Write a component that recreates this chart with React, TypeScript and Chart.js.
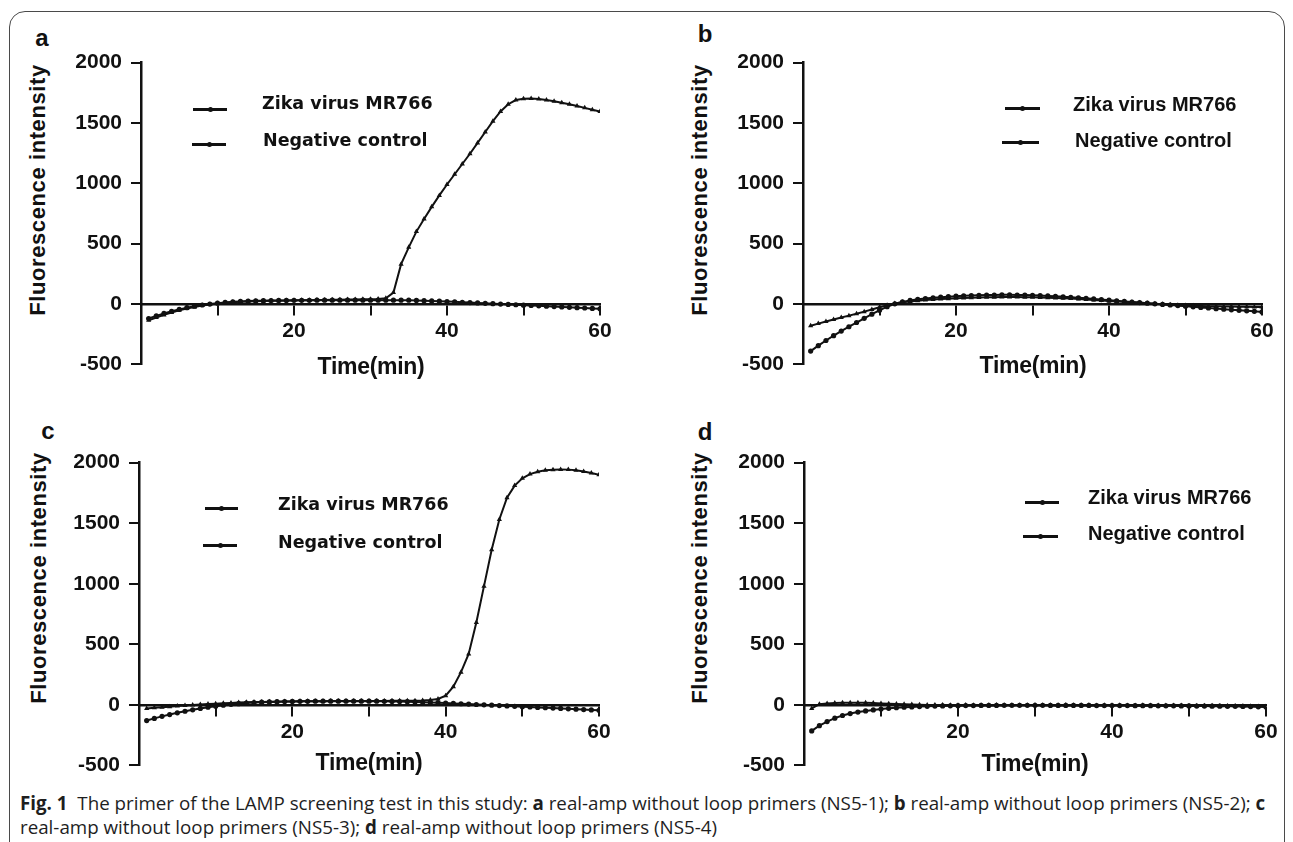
import React, { useEffect, useLayoutEffect, useRef, useState } from "react";
import { Chart, registerables } from "chart.js";

Chart.register(...registerables);

// ---------- DATA ----------
const TIME = [1, 2, 3, 4, 5, 6, 7, 8, 9, 10, 11, 12, 13, 14, 15, 16, 17, 18, 19, 20,
  21, 22, 23, 24, 25, 26, 27, 28, 29, 30, 31, 32, 33, 34, 35, 36, 37, 38, 39, 40,
  41, 42, 43, 44, 45, 46, 47, 48, 49, 50, 51, 52, 53, 54, 55, 56, 57, 58, 59, 60];

const SERIES_NAMES = ["Zika virus MR766", "Negative control"];
const PANEL_LETTERS = ["a", "b", "c", "d"];
const X_TITLE = "Time(min)";
const Y_TITLE = "Fluorescence intensity";
const X_TICK_LABELS = [20, 40, 60];
const Y_TICK_LABELS = [-500, 0, 500, 1000, 1500, 2000];

const A_ZIKA = [-135, -112, -90, -70, -52, -37, -24, -13, -4, 4,
  10, 15, 19, 22, 24, 26, 27, 28, 29, 30,
  31, 32, 33, 34, 35, 36, 37, 38, 39, 40,
  42, 48, 95, 330, 470, 600, 705, 805, 900, 990,
  1075, 1160, 1245, 1335, 1425, 1515, 1595, 1655, 1690, 1700,
  1702, 1698, 1690, 1680, 1668, 1655, 1640, 1625, 1610, 1595];
const A_NEG = [-120, -98, -78, -60, -44, -30, -18, -8, 0, 7,
  13, 18, 22, 25, 27, 28, 29, 30, 30, 31,
  31, 31, 32, 32, 32, 32, 32, 32, 32, 32,
  32, 32, 32, 32, 32, 30, 28, 26, 24, 21,
  18, 15, 12, 9, 6, 3, 0, -3, -6, -9,
  -12, -15, -18, -21, -24, -27, -30, -33, -36, -40];

const B_ZIKA = [-180, -162, -145, -128, -112, -96, -80, -63, -45, -27,
  -10, 4, 14, 22, 28, 33, 37, 41, 44, 47,
  50, 52, 54, 56, 57, 58, 58, 58, 57, 56,
  55, 53, 51, 48, 45, 42, 38, 34, 30, 26,
  22, 18, 14, 10, 6, 2, -2, -6, -9, -12,
  -14, -16, -18, -19, -20, -21, -22, -23, -24, -25];
const B_NEG = [-390, -345, -302, -262, -224, -188, -153, -118, -84, -52,
  -22, 2, 18, 30, 39, 46, 52, 57, 61, 65,
  68, 70, 72, 74, 75, 76, 76, 75, 74, 72,
  70, 67, 64, 60, 56, 52, 47, 42, 37, 32,
  27, 22, 17, 12, 7, 2, -3, -8, -13, -18,
  -23, -28, -33, -38, -43, -48, -52, -56, -60, -65];

const C_ZIKA = [-30, -25, -20, -15, -10, -6, -2, 2, 6, 10,
  13, 16, 19, 21, 23, 24, 25, 26, 27, 28,
  29, 29, 30, 30, 31, 31, 31, 32, 32, 32,
  32, 32, 33, 33, 33, 34, 36, 40, 48, 75,
  150, 270, 420, 680, 980, 1280, 1530, 1710, 1810, 1870,
  1905, 1925, 1936, 1941, 1943, 1942, 1937, 1927, 1914, 1900];
const C_NEG = [-130, -112, -95, -80, -66, -53, -41, -30, -20, -11,
  -3, 4, 10, 15, 19, 22, 24, 26, 27, 28,
  29, 29, 30, 30, 30, 30, 30, 30, 30, 30,
  30, 29, 28, 27, 26, 24, 22, 20, 18, 15,
  12, 9, 6, 3, 0, -3, -6, -9, -12, -15,
  -18, -21, -24, -27, -30, -33, -36, -39, -42, -45];

const D_ZIKA = [-30, 5, 12, 15, 17, 18, 18, 17, 15, 12,
  9, 6, 4, 2, 0, -1, -2, -2, -3, -3,
  -2, -3, -4, -3, -2, -3, -4, -4, -3, -2,
  -3, -4, -3, -2, -3, -4, -4, -5, -4, -3,
  -4, -5, -5, -4, -5, -6, -6, -5, -6, -7,
  -7, -8, -8, -9, -9, -10, -11, -12, -13, -14];
const D_NEG = [-215, -172, -138, -110, -88, -72, -60, -50, -42, -35,
  -29, -24, -20, -17, -14, -12, -10, -9, -8, -7,
  -6, -6, -5, -5, -5, -4, -4, -4, -4, -4,
  -4, -5, -5, -5, -5, -5, -5, -6, -6, -6,
  -6, -6, -7, -7, -7, -8, -8, -8, -9, -9,
  -10, -10, -11, -11, -12, -12, -13, -14, -16, -18];

// ---------- STYLE / LAYOUT ----------
const INK = "#111111";
const ARIAL = "'Liberation Sans', Arial, Helvetica, sans-serif";
const VERDANA = "'DejaVu Sans', Verdana, sans-serif";

type PanelCfg = {
  zika: number[];
  neg: number[];
  canvas: { left: number; top: number; width: number; height: number };
  letter: { x: number; y: number };
  yTitle: { x: number; y: number };
  xTitle: { x: number; y: number };
  legendFont: string;
  legendSize: number;
  legend: { lx: number; lw: number; ly: number; tx: number; ty: number }[];
};

const PANELS: PanelCfg[] = [
  {
    zika: A_ZIKA, neg: A_NEG,
    canvas: { left: 61, top: 41, width: 559, height: 345 },
    letter: { x: 42, y: 38 },
    yTitle: { x: 38, y: 190 },
    xTitle: { x: 371, y: 366 },
    legendFont: VERDANA, legendSize: 17.5,
    legend: [
      { lx: 193, lw: 34, ly: 109, tx: 262, ty: 104 },
      { lx: 192, lw: 34, ly: 144, tx: 263, ty: 141 },
    ],
  },
  {
    zika: B_ZIKA, neg: B_NEG,
    canvas: { left: 723, top: 41, width: 559, height: 345 },
    letter: { x: 705, y: 34 },
    yTitle: { x: 700, y: 190 },
    xTitle: { x: 1033, y: 365 },
    legendFont: ARIAL, legendSize: 20,
    legend: [
      { lx: 1005, lw: 35, ly: 108, tx: 1073, ty: 104 },
      { lx: 1002, lw: 37, ly: 142, tx: 1075, ty: 140 },
    ],
  },
  {
    zika: C_ZIKA, neg: C_NEG,
    canvas: { left: 59, top: 441, width: 560, height: 346 },
    letter: { x: 48, y: 431 },
    yTitle: { x: 39, y: 578 },
    xTitle: { x: 369, y: 762 },
    legendFont: VERDANA, legendSize: 17.5,
    legend: [
      { lx: 205, lw: 33, ly: 508, tx: 278, ty: 505 },
      { lx: 203, lw: 34, ly: 545, tx: 278, ty: 543 },
    ],
  },
  {
    zika: D_ZIKA, neg: D_NEG,
    canvas: { left: 724, top: 441, width: 562, height: 346 },
    letter: { x: 705, y: 432 },
    yTitle: { x: 700, y: 578 },
    xTitle: { x: 1035, y: 763 },
    legendFont: ARIAL, legendSize: 20,
    legend: [
      { lx: 1025, lw: 34, ly: 502, tx: 1088, ty: 497 },
      { lx: 1023, lw: 35, ly: 536, tx: 1088, ty: 533 },
    ],
  },
];

function PanelChart({ cfg }: { cfg: PanelCfg }) {
  const ref = useRef<HTMLCanvasElement>(null);
  useEffect(() => {
    if (!ref.current) return;
    const mk = (vals: number[]) => TIME.map((t, i) => ({ x: t, y: vals[i] }));
    const tickFont = { family: ARIAL, size: 21, weight: "bold" as const };
    const chart = new Chart(ref.current, {
      type: "line",
      data: {
        datasets: [
          {
            label: SERIES_NAMES[0],
            data: mk(cfg.zika),
            borderColor: INK,
            backgroundColor: INK,
            borderWidth: 2,
            pointStyle: "triangle",
            pointRadius: 3,
            pointBorderWidth: 0,
            pointBackgroundColor: INK,
            tension: 0,
          },
          {
            label: SERIES_NAMES[1],
            data: mk(cfg.neg),
            borderColor: INK,
            backgroundColor: INK,
            borderWidth: 2,
            pointStyle: "circle",
            pointRadius: 2.6,
            pointBorderWidth: 0,
            pointBackgroundColor: INK,
            tension: 0,
          },
        ],
      },
      options: {
        animation: false,
        responsive: false,
        maintainAspectRatio: false,
        layout: { padding: { left: 0, top: 20, right: 20, bottom: 20 } },
        plugins: { legend: { display: false }, tooltip: { enabled: false } },
        scales: {
          x: {
            type: "linear",
            min: 0,
            max: 60,
            position: { y: 0 } as any,
            grid: { drawOnChartArea: false, drawTicks: true, tickLength: 10, color: INK, lineWidth: 2 },
            border: { display: true, color: INK, width: 2.5 },
            ticks: {
              stepSize: 10,
              autoSkip: false,
              maxRotation: 0,
              padding: 5,
              color: INK,
              font: tickFont,
              callback: (v: any) => (X_TICK_LABELS.includes(Number(v)) ? String(v) : ""),
            },
          },
          y: {
            type: "linear",
            min: -500,
            max: 2000,
            position: "left",
            afterFit: (s: any) => {
              s.width = 80;
            },
            grid: { drawOnChartArea: false, drawTicks: true, tickLength: 10, color: INK, lineWidth: 2 },
            border: { display: true, color: INK, width: 2.5 },
            ticks: {
              stepSize: 500,
              autoSkip: false,
              padding: 9,
              color: INK,
              font: tickFont,
              callback: (v: any) => (Y_TICK_LABELS.includes(Number(v)) ? String(v) : ""),
            },
          },
        },
      },
    });
    return () => chart.destroy();
  }, [cfg]);
  const c = cfg.canvas;
  return (
    <canvas
      ref={ref}
      width={c.width}
      height={c.height}
      style={{ position: "absolute", left: c.left, top: c.top, width: c.width, height: c.height }}
    />
  );
}

const centered = (x: number, y: number): React.CSSProperties => ({
  position: "absolute",
  left: x,
  top: y,
  transform: "translate(-50%, -50%)",
  whiteSpace: "nowrap",
});

function PanelDecor({ cfg, idx }: { cfg: PanelCfg; idx: number }) {
  return (
    <>
      <div style={{ ...centered(cfg.letter.x, cfg.letter.y), font: `bold 24px ${ARIAL}`, color: INK, lineHeight: "28px" }}>
        {PANEL_LETTERS[idx]}
      </div>
      <div
        style={{
          position: "absolute",
          left: cfg.yTitle.x,
          top: cfg.yTitle.y,
          transform: "translate(-50%, -50%) rotate(-90deg)",
          whiteSpace: "nowrap",
          font: `bold 22px ${ARIAL}`,
          letterSpacing: "0.6px",
          color: INK,
          lineHeight: "26px",
        }}
      >
        {Y_TITLE}
      </div>
      <div style={{ ...centered(cfg.xTitle.x, cfg.xTitle.y), font: `bold 23px ${ARIAL}`, letterSpacing: "-0.3px", color: INK, lineHeight: "28px" }}>
        {X_TITLE}
      </div>
      {cfg.legend.map((l, i) => (
        <React.Fragment key={i}>
          <div style={{ position: "absolute", left: l.lx, top: l.ly - 1, width: l.lw, height: 2.5, background: INK }} />
          <div
            style={{
              position: "absolute",
              left: l.lx + l.lw / 2 - 2.5,
              top: l.ly - 2.25,
              width: 5,
              height: 5,
              borderRadius: "50%",
              background: INK,
            }}
          />
          <div
            style={{
              position: "absolute",
              left: l.tx,
              top: l.ty,
              transform: "translateY(-50%)",
              whiteSpace: "nowrap",
              font: `bold ${cfg.legendSize}px ${cfg.legendFont}`,
              color: INK,
              lineHeight: `${cfg.legendSize + 4}px`,
            }}
          >
            {SERIES_NAMES[i]}
          </div>
        </React.Fragment>
      ))}
    </>
  );
}

function Caption() {
  const line1 = useRef<HTMLSpanElement>(null);
  const [sx, setSx] = useState(1);
  useLayoutEffect(() => {
    if (line1.current) {
      const w = line1.current.offsetWidth;
      if (w > 0) setSx(1245 / w);
    }
  }, []);
  const base: React.CSSProperties = {
    position: "absolute",
    left: 20,
    whiteSpace: "nowrap",
    font: `19px 'Open Sans', 'Noto Sans', sans-serif`,
    color: "#1e1e1e",
    lineHeight: "24px",
    transformOrigin: "0 50%",
    transform: `translateY(-50%) scaleX(${sx})`,
  };
  return (
    <>
      <span ref={line1} style={{ ...base, top: 803, display: "inline-block" }}>
        <b>Fig. 1</b>&nbsp; The primer of the LAMP screening test in this study: <b>a</b> real-amp without loop primers
        (NS5-1); <b>b</b> real-amp without loop primers (NS5-2); <b>c</b>
      </span>
      <span style={{ ...base, top: 827, display: "inline-block" }}>
        real-amp without loop primers (NS5-3); <b>d</b> real-amp without loop primers (NS5-4)
      </span>
    </>
  );
}

export default function App() {
  return (
    <div
      style={{
        position: "absolute",
        left: 0,
        top: 0,
        width: 1293,
        height: 842,
        overflow: "hidden",
        background: "#fff",
      }}
    >
      <div
        style={{
          position: "absolute",
          left: 9,
          top: 11,
          width: 1276,
          height: 880,
          border: "1.5px solid #4a4a4a",
          borderRadius: 16,
          boxSizing: "border-box",
        }}
      />
      {PANELS.map((p, i) => (
        <PanelChart key={"c" + i} cfg={p} />
      ))}
      {PANELS.map((p, i) => (
        <PanelDecor key={"d" + i} cfg={p} idx={i} />
      ))}
      <Caption />
    </div>
  );
}
